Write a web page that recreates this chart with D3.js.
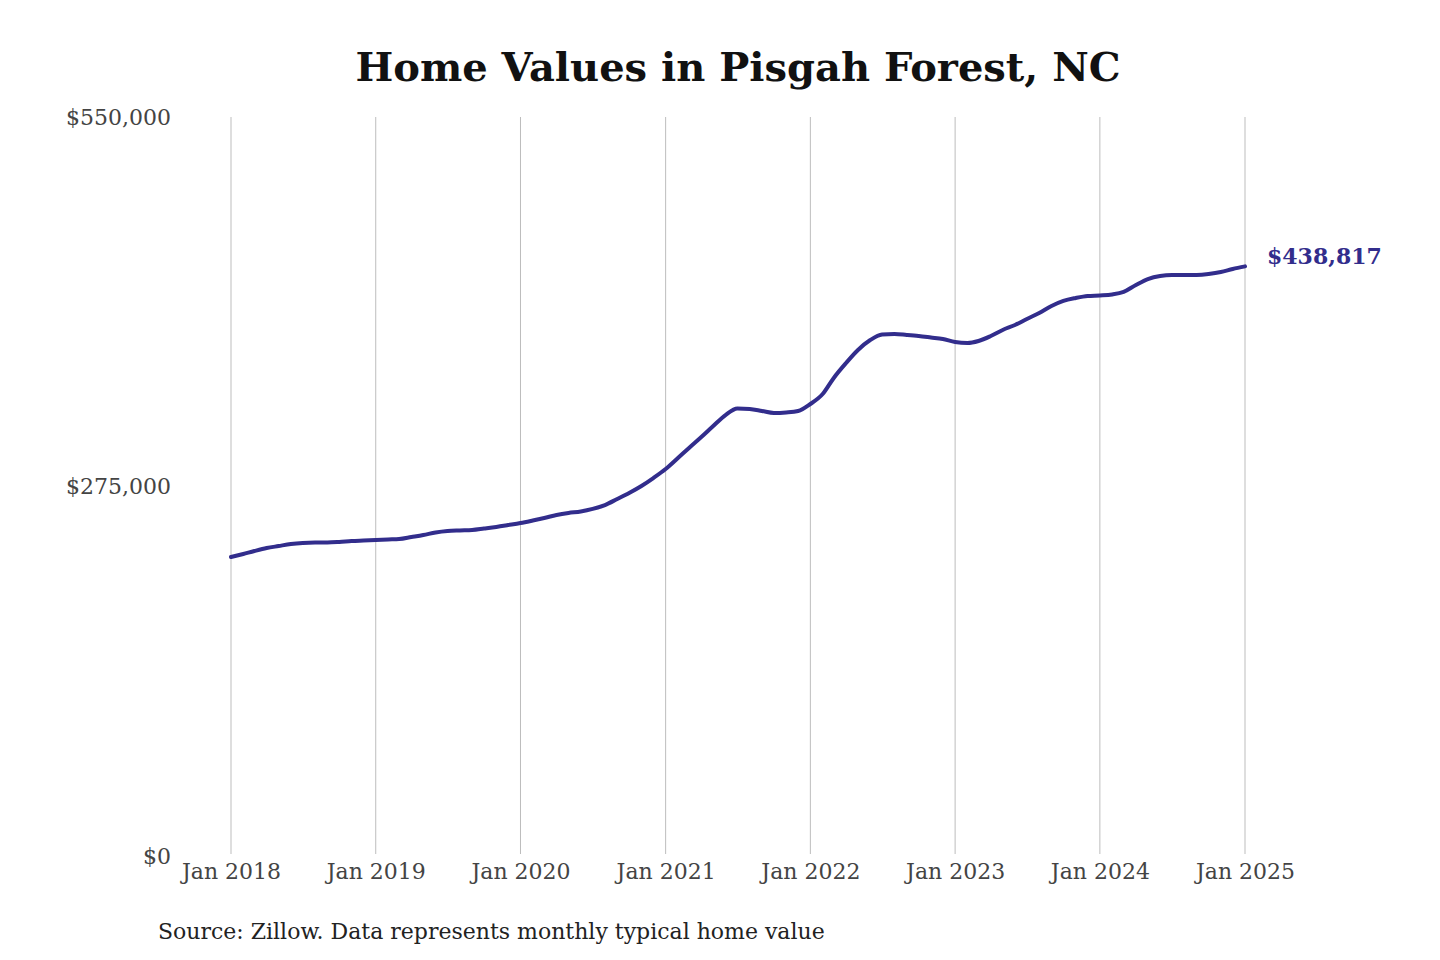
<!DOCTYPE html>
<html lang="en">
<head>
    <meta charset="UTF-8">
    <title>Home Values in Pisgah Forest, NC</title>
    <script src="https://d3js.org/d3.v7.min.js"></script>
    <style>
        body { margin: 0; background: #fff; }
        text { font-family: "DejaVu Serif", serif; }
    </style>
</head>
<body>
<script>
// monthly typical home value, Jan 2018 .. Jan 2025
var startYear = 2018;
var values = [
    222500, 224800, 227000, 229200, 230700, 232200, 233000, 233300, 233300, 233700, 234400, 234800,
    235200, 235600, 235900, 237400, 238900, 240800, 241900, 242300, 242600, 243700, 244900, 246300,
    247800, 249700, 251600, 253800, 255300, 256400, 258300, 261200, 265700, 270200, 275400, 281300,
    288000, 296200, 303700, 311800, 320000, 328200, 333100, 332700, 331200, 329700, 330100, 331200,
    336400, 343800, 355800, 366900, 376600, 384000, 388100, 388500, 387800, 387000, 385900, 384800,
    382500, 381800, 383300, 387000, 391500, 395200, 399700, 404100, 409300, 413100, 415300, 416800,
    417200, 417900, 419800, 425000, 429400, 431700, 432400, 432400, 432500, 433200, 434600, 436900,
    438817
];
var yTicks = [0, 275000, 550000];
var xTickYears = [2018, 2019, 2020, 2021, 2022, 2023, 2024, 2025];

var title = "Home Values in Pisgah Forest, NC";
var source = "Source: Zillow. Data represents monthly typical home value";

var data = values.map(function(v, i) {
    return { date: new Date(startYear, i, 1), value: v };
});

var W = 1440, H = 960;
var margin = {top: 117, right: 195, bottom: 104, left: 231};
var width = W - margin.left - margin.right,
    height = H - margin.top - margin.bottom;

var svg = d3.select("body").append("svg")
    .attr("width", W)
    .attr("height", H);

var g = svg.append("g")
    .attr("transform", "translate(" + margin.left + "," + margin.top + ")");

var x = d3.scaleTime()
    .domain([new Date(2018, 0, 1), new Date(2025, 0, 1)])
    .range([0, width]);
var y = d3.scaleLinear()
    .domain([0, 550000])
    .range([height, 0]);

// vertical grid lines at each January
g.selectAll(".grid")
    .data(xTickYears)
  .enter().append("line")
    .attr("class", "grid")
    .attr("x1", function(d) { return x(new Date(d, 0, 1)); })
    .attr("x2", function(d) { return x(new Date(d, 0, 1)); })
    .attr("y1", 0)
    .attr("y2", height - 2)
    .attr("stroke", "#bdbdbd")
    .attr("stroke-width", 1);

// x axis labels
var xAxis = g.append("g")
    .attr("transform", "translate(0," + height + ")")
    .call(d3.axisBottom(x)
        .tickValues(xTickYears.map(function(d) { return new Date(d, 0, 1); }))
        .tickFormat(d3.timeFormat("Jan %Y"))
        .tickSize(0)
        .tickPadding(7));
xAxis.select(".domain").remove();
xAxis.selectAll("text")
    .attr("fill", "#444")
    .style("font-size", "22px")
    .style("font-family", "DejaVu Serif");

// y axis labels
var yAxis = g.append("g")
    .call(d3.axisLeft(y)
        .tickValues(yTicks)
        .tickFormat(function(d) { return "$" + d3.format(",")(d); })
        .tickSize(0)
        .tickPadding(60));
yAxis.select(".domain").remove();
yAxis.selectAll("text")
    .attr("fill", "#444")
    .style("font-size", "22px")
    .style("font-family", "DejaVu Serif");

// the line
var line = d3.line()
    .x(function(d) { return x(d.date); })
    .y(function(d) { return y(d.value); })
    .curve(d3.curveMonotoneX);

g.append("path")
    .datum(data)
    .attr("fill", "none")
    .attr("stroke", "#322d8c")
    .attr("stroke-width", 4)
    .attr("stroke-linejoin", "round")
    .attr("stroke-linecap", "round")
    .attr("d", line);

// end value label
var last = data[data.length - 1];
g.append("text")
    .attr("x", x(last.date) + 22)
    .attr("y", y(last.value) - 2)
    .attr("fill", "#322d8c")
    .style("font-size", "22px")
    .style("font-weight", "bold")
    .text("$" + d3.format(",")(last.value));

// title
svg.append("text")
    .attr("x", 738)
    .attr("y", 81)
    .attr("text-anchor", "middle")
    .attr("fill", "#111")
    .style("font-size", "40px")
    .style("font-weight", "bold")
    .text(title);

// source
svg.append("text")
    .attr("x", 158)
    .attr("y", 939)
    .attr("fill", "#222")
    .style("font-size", "22px")
    .text(source);
</script>
</body>
</html>
